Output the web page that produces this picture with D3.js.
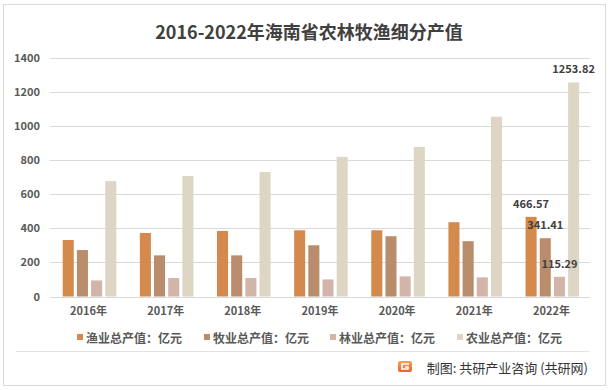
<!DOCTYPE html>
<html>
<head>
<meta charset="utf-8">
<script src="https://cdn.jsdelivr.net/npm/d3@7/dist/d3.min.js"></script>
<style>
  body { margin: 0; background: #fff; }
  svg text { font-family: "Noto Sans CJK SC", "Noto Sans", sans-serif; }
</style>
</head>
<body>
<svg id="chart" width="613" height="390"></svg>
<script>
var years = ["2016年", "2017年", "2018年", "2019年", "2020年", "2021年", "2022年"];
var seriesNames = ["渔业总产值：亿元", "牧业总产值：亿元", "林业总产值：亿元", "农业总产值：亿元"];
var fishery  = [331, 372, 384, 388, 388, 435, 466.57];
var animal   = [272, 241, 241, 300, 353, 324, 341.41];
var forestry = [94, 108, 108, 100, 118, 112, 115.29];
var farming  = [676, 706, 729, 818, 876, 1053, 1253.82];
var yTicks = [0, 200, 400, 600, 800, 1000, 1200, 1400];
var colors = ["#d38a4c", "#b98c6b", "#d3b4a9", "#ddd6c4"];

var seriesValues = [fishery, animal, forestry, farming];

var svg = d3.select("#chart");

// outer frame
svg.append("rect")
	.attr("x", 3.5).attr("y", 4.5)
	.attr("width", 602).attr("height", 381)
	.attr("fill", "#fff")
	.attr("stroke", "#d9d9d9");

svg.append("text")
	.attr("x", 309).attr("y", 31)
	.attr("text-anchor", "middle")
	.attr("dominant-baseline", "central")
	.attr("font-size", 18)
	.attr("font-weight", "bold")
	.attr("fill", "#404040")
	.text("2016-2022年海南省农林牧渔细分产值");

var x = d3.scaleBand().domain(years).range([50, 590]);
var xs = d3.scaleBand().domain(d3.range(4)).range([12.7, 66.3]).paddingInner(0.22);
var y = d3.scaleLinear().domain([0, 1400]).range([296.5, 57.5]);

// gridlines
svg.append("g")
	.selectAll("line")
	.data(yTicks)
	.join("line")
		.attr("x1", 50).attr("x2", 590)
		.attr("y1", function(d) { return Math.round(y(d)) + 0.5; })
		.attr("y2", function(d) { return Math.round(y(d)) + 0.5; })
		.attr("stroke", "#d9d9d9");

var yAxis = svg.append("g")
	.attr("transform", "translate(40,0)")
	.call(d3.axisLeft(y).tickValues(yTicks).tickFormat(d3.format("d")).tickSize(0).tickPadding(0));
yAxis.select(".domain").remove();
yAxis.selectAll("text")
	.attr("font-size", 11)
	.attr("font-weight", "bold")
	.attr("fill", "#595959")
	.attr("font-family", "'Noto Sans CJK SC', sans-serif");

var xAxis = svg.append("g")
	.attr("transform", "translate(0,306)")
	.call(d3.axisBottom(x).tickSize(0).tickPadding(0));
xAxis.select(".domain").remove();
xAxis.selectAll("text")
	.attr("dy", "0.8em")
	.attr("font-size", 11)
	.attr("font-weight", "bold")
	.attr("fill", "#595959")
	.attr("font-family", "'Noto Sans CJK SC', sans-serif");

// bars
seriesValues.forEach(function(values, s) {
	svg.append("g")
		.selectAll("rect")
		.data(values)
		.join("rect")
			.attr("x", function(d, i) { return x(years[i]) + xs(s); })
			.attr("y", function(d) { return y(d); })
			.attr("width", xs.bandwidth())
			.attr("height", function(d) { return y(0) - y(d); })
			.attr("fill", colors[s]);
});

// labels on the last year only
var last = years.length - 1;
seriesValues.forEach(function(values, s) {
	var v = values[last];
	svg.append("text")
		.attr("x", x(years[last]) + xs(s) + xs.bandwidth() / 2)
		.attr("y", y(v) - 14)
		.attr("text-anchor", "middle")
		.attr("dominant-baseline", "central")
		.attr("font-size", 11)
		.attr("font-weight", "bold")
		.attr("fill", "#404040")
		.text(v.toFixed(2));
});

// legend
var legendX = [77, 204, 330, 457];
var legend = svg.append("g")
	.selectAll("g")
	.data(seriesNames)
	.join("g")
		.attr("transform", function(d, i) { return "translate(" + legendX[i] + ",337)"; });
legend.append("rect")
	.attr("x", 0).attr("y", -3)
	.attr("width", 6).attr("height", 6)
	.attr("fill", function(d, i) { return colors[i]; });
legend.append("text")
	.attr("x", 9)
	.attr("dominant-baseline", "central")
	.attr("font-size", 12)
	.attr("font-weight", "bold")
	.attr("fill", "#595959")
	.text(function(d) { return d; });

svg.append("line")
	.attr("x1", 16).attr("x2", 589)
	.attr("y1", 351.5).attr("y2", 351.5)
	.attr("stroke", "#e3e3e3");

// footer logo + source
var grad = svg.append("defs").append("linearGradient")
	.attr("id", "logoGrad")
	.attr("x1", 0).attr("y1", 0).attr("x2", 0).attr("y2", 1);
grad.append("stop").attr("offset", 0).attr("stop-color", "#f5a25a");
grad.append("stop").attr("offset", 1).attr("stop-color", "#e8632c");

var logo = svg.append("g").attr("transform", "translate(398,361)");
logo.append("rect")
	.attr("width", 14).attr("height", 11).attr("rx", 2)
	.attr("fill", "url(#logoGrad)");
logo.append("path")
	.attr("d", "M11,3 H4 V8 H10 V6 H7")
	.attr("fill", "none")
	.attr("stroke", "#fff")
	.attr("stroke-width", 1.6);

svg.append("text")
	.attr("x", 588).attr("y", 367)
	.attr("text-anchor", "end")
	.attr("dominant-baseline", "central")
	.attr("font-size", 13)
	.attr("fill", "#333")
	.text("制图: 共研产业咨询 (共研网)");
</script>
</body>
</html>
